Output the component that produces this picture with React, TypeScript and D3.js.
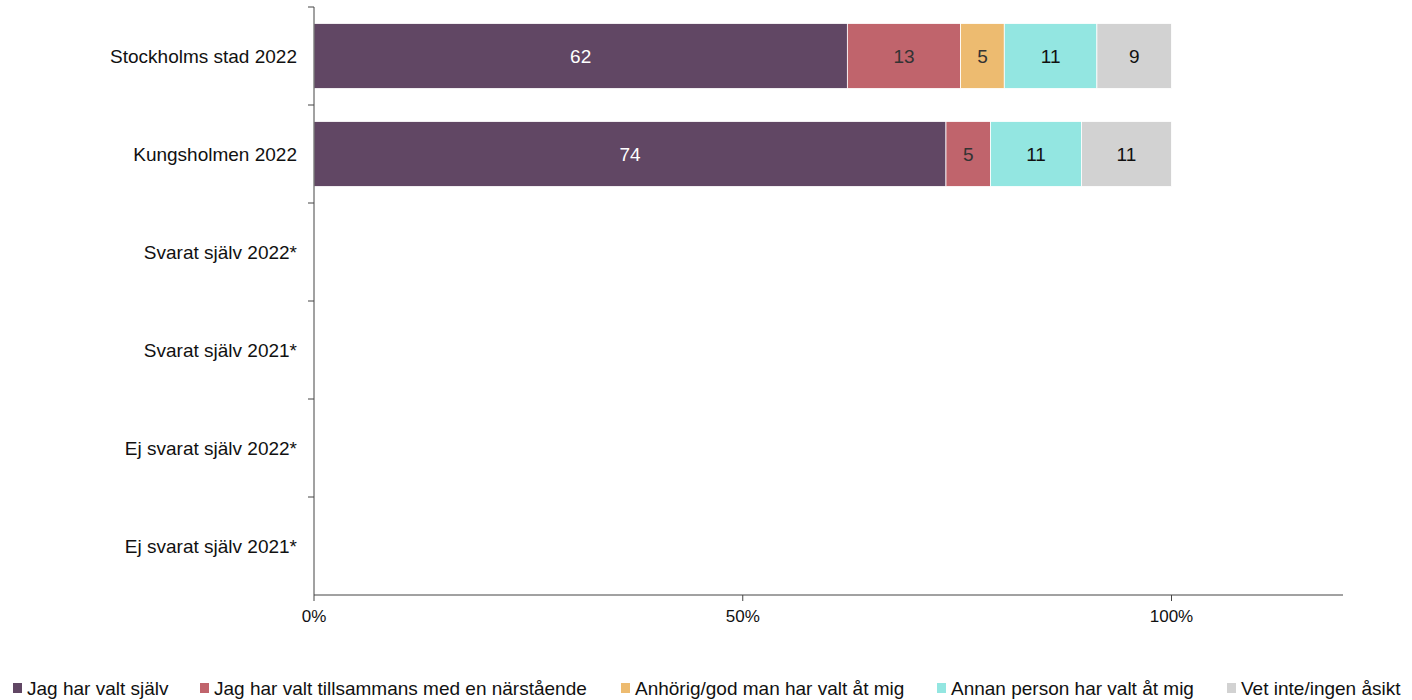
import React from "react";
import * as d3 from "d3";

const categories = [
  "Stockholms stad 2022",
  "Kungsholmen 2022",
  "Svarat själv 2022*",
  "Svarat själv 2021*",
  "Ej svarat själv 2022*",
  "Ej svarat själv 2021*",
];

const seriesNames = [
  "Jag har valt själv",
  "Jag har valt tillsammans med en närstående",
  "Anhörig/god man har valt åt mig",
  "Annan person har valt åt mig",
  "Vet inte/ingen åsikt",
];

const seriesColors = ["#614764", "#C0646C", "#EDBB70", "#93E6E1", "#D2D2D2"];
const labelColors = ["#ffffff", "#333333", "#333333", "#111111", "#111111"];

// values in percent, per series, per category (null = no data)
const valtSjalv = [62.2, 73.7, null, null, null, null];
const tillsammans = [13.2, 5.2, null, null, null, null];
const anhorig = [5.1, 0, null, null, null, null];
const annanPerson = [10.8, 10.6, null, null, null, null];
const vetInte = [8.7, 10.5, null, null, null, null];

const seriesValues = [valtSjalv, tillsammans, anhorig, annanPerson, vetInte];

const xTicks = [0, 0.5, 1];
const xTickLabels = ["0%", "50%", "100%"];

const W = 1412;
const H = 700;
const left = 314;
const right = 1343;
const top = 7;
const bottom = 595;
const FONT = "Liberation Sans, Arial, sans-serif";

export default function App() {
  const x = d3.scaleLinear().domain([0, 1.2]).range([left, right]);
  const y = d3.scaleBand().domain(categories).range([top, bottom]).paddingInner(0.337).paddingOuter(0.1685);
  const yBand = d3.scaleBand().domain(categories).range([top, bottom]);

  const rows = categories.map((c, ci) => {
    const vals = seriesValues.map((s) => s[ci]);
    if (vals.every((v) => v == null)) return null;
    const total = d3.sum(vals as number[]);
    let acc = 0;
    return vals.map((v, si) => {
      const x0 = acc / total;
      acc += v as number;
      const x1 = acc / total;
      return { c, si, v: v as number, x0, x1 };
    });
  });

  const legendX = [13, 200, 621, 937, 1227];

  return (
    <svg width={W} height={H} style={{ position: "absolute", left: 0, top: 0, background: "#fff" }} fontFamily={FONT}>
      {rows.map((r, ri) =>
        r
          ? r.map((seg) =>
              seg.v > 0 ? (
                <g key={`${ri}-${seg.si}`}>
                  <rect
                    x={x(seg.x0)}
                    y={y(seg.c)}
                    width={x(seg.x1) - x(seg.x0)}
                    height={y.bandwidth()}
                    fill={seriesColors[seg.si]}
                    stroke="#ffffff"
                    strokeWidth={0.8}
                  />
                  <text
                    x={(x(seg.x0) + x(seg.x1)) / 2}
                    y={(y(seg.c) as number) + y.bandwidth() / 2}
                    dy="0.35em"
                    textAnchor="middle"
                    fontSize={19}
                    fill={labelColors[seg.si]}
                  >
                    {Math.round(seg.v)}
                  </text>
                </g>
              ) : null
            )
          : null
      )}
      {/* y axis */}
      <line x1={left} x2={left} y1={top} y2={bottom} stroke="#444" strokeWidth={1} />
      {categories.map((c, i) => (
        <line key={"yt" + i} x1={left - 6} x2={left} y1={yBand(c) as number} y2={yBand(c) as number} stroke="#444" />
      ))}
      {categories.map((c) => (
        <text
          key={"yl" + c}
          x={297}
          y={(yBand(c) as number) + yBand.bandwidth() / 2}
          dy="0.35em"
          textAnchor="end"
          fontSize={19}
          fill="#111"
        >
          {c}
        </text>
      ))}
      {/* x axis */}
      <line x1={left} x2={right} y1={bottom} y2={bottom} stroke="#444" />
      {xTicks.map((t, i) => (
        <g key={"xt" + i}>
          <line x1={x(t)} x2={x(t)} y1={bottom} y2={bottom + 6} stroke="#444" />
          <text x={x(t)} y={616} dy="0.35em" textAnchor="middle" fontSize={17} fill="#111">
            {xTickLabels[i]}
          </text>
        </g>
      ))}
      {/* legend */}
      {seriesNames.map((n, i) => (
        <g key={"lg" + i}>
          <rect x={legendX[i]} y={683} width={9} height={10} fill={seriesColors[i]} />
          <text x={legendX[i] + 14} y={688} dy="0.35em" fontSize={19} fill="#111">
            {n}
          </text>
        </g>
      ))}
    </svg>
  );
}
